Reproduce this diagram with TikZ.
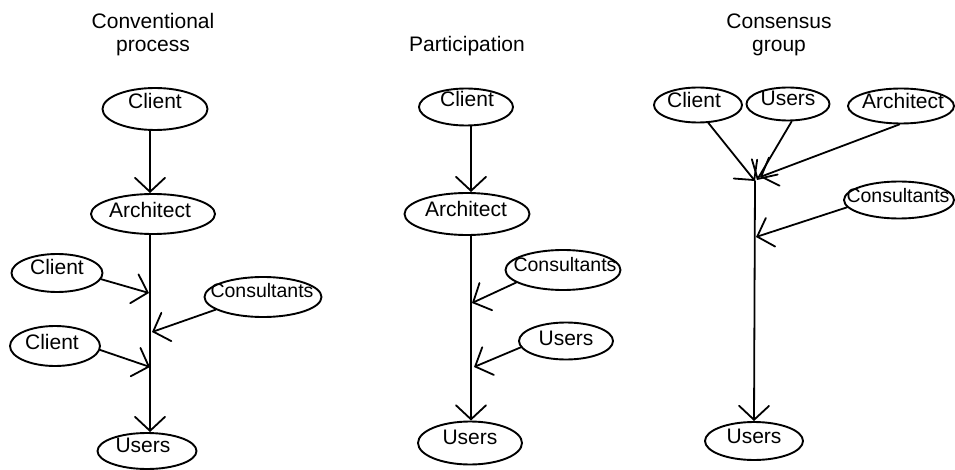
\documentclass[tikz,border=0pt]{standalone}
\usepackage{fontspec}
\setmainfont{Liberation Sans}
\usetikzlibrary{shapes.geometric,arrows.meta}
\begin{document}
\begin{tikzpicture}[x=1pt,y=-1pt,
  oval/.style={draw, ellipse, line width=1.9pt, inner sep=0pt},
  txt/.style={anchor=base, inner sep=0pt, font=\fontsize{21}{24}\selectfont},
  ctxt/.style={txt, font=\fontsize{19.5}{23}\selectfont},
  flow/.style={line width=1.8pt, line cap=round, -{Straight Barb[length=14pt,width=30pt,line cap=round]}}]
\useasboundingbox (0,0) rectangle (955,470);

% ---------- titles ----------
\node[txt] (t1a) at (153,29) {Conventional};
\node[txt] (t1b) at (153,52) {process};
\node[txt] (t2) at (467,52) {Participation};
\node[txt] (t3a) at (779,29) {Consensus};
\node[txt] (t3b) at (779,52) {group};

% ---------- left: conventional process ----------
\node[oval, minimum width=105pt, minimum height=42pt] (Lc1) at (155,109) {};
\node[txt] (Lc1t) at (155,109) {Client};
\node[oval, minimum width=124pt, minimum height=40pt] (La) at (153,214) {};
\node[txt] (Lat) at (150,218) {Architect};
\node[oval, minimum width=91pt, minimum height=38pt] (Lc2) at (57,273) {};
\node[txt] (Lc2t) at (57,274) {Client};
\node[oval, minimum width=117pt, minimum height=40pt] (Lco) at (263,297) {};
\node[ctxt] (Lcot) at (262,298) {Consultants};
\node[oval, minimum width=90pt, minimum height=40pt] (Lc3) at (55,346) {};
\node[txt] (Lc3t) at (52,349) {Client};
\node[oval, minimum width=99pt, minimum height=36pt] (Lu) at (147,451) {};
\node[txt] (Lut) at (143,452) {Users};

\coordinate (sL) at (150,0);
\coordinate (jL1) at (149,293);
\coordinate (jL2) at (152,332);
\coordinate (jL3) at (150,367);
\draw[flow] (sL |- Lc1.south) -- (sL |- La.north);
\draw[flow] (sL |- La.south) -- (sL |- Lu.north);
\draw[flow] (Lc2.-8) -- (jL1);
\draw[flow] (Lco.195) -- (jL2);
\draw[flow] (Lc3.-5) -- (jL3);

% ---------- middle: participation ----------
\node[oval, minimum width=94pt, minimum height=37pt] (Mc1) at (466,107) {};
\node[txt] (Mc1t) at (467,107) {Client};
\node[oval, minimum width=125pt, minimum height=42pt] (Ma) at (467,214) {};
\node[txt] (Mat) at (466,217) {Architect};
\node[oval, minimum width=115pt, minimum height=40pt] (Mco) at (563,270) {};
\node[ctxt] (Mcot) at (565,272) {Consultants};
\node[oval, minimum width=94pt, minimum height=37pt] (Mu1) at (566,341) {};
\node[txt] (Mu1t) at (566,345) {Users};
\node[oval, minimum width=104pt, minimum height=43pt] (Mu2) at (470,443) {};
\node[txt] (Mu2t) at (470,444) {Users};

\coordinate (sM) at (471,0);
\coordinate (jM1) at (472,303);
\coordinate (jM2) at (474,367);
\draw[flow] (sM |- Mc1.south) -- (sM |- Ma.north);
\draw[flow] (sM |- Ma.south) -- (sM |- Mu2.north);
\draw[flow] (Mco.195) -- (jM1);
\draw[flow] (Mu1.188) -- (jM2);

% ---------- right: consensus group ----------
\node[oval, minimum width=88pt, minimum height=35pt] (Rc) at (698,105) {};
\node[txt] (Rct) at (694,108) {Client};
\node[oval, minimum width=83pt, minimum height=33pt] (Ru1) at (788,104) {};
\node[txt] (Ru1t) at (788,106) {Users};
\node[oval, minimum width=106pt, minimum height=35pt] (Ra) at (901,106) {};
\node[txt] (Rat) at (903,109) {Architect};
\node[oval, minimum width=110pt, minimum height=37pt] (Rco) at (899,200) {};
\node[ctxt] (Rcot) at (898,203) {Consultants};
\node[oval, minimum width=98pt, minimum height=38pt] (Ru2) at (754,441) {};
\node[txt] (Ru2t) at (754,443) {Users};

\coordinate (jRa) at (755,181);
\coordinate (jRb) at (757,180);
\coordinate (jRc) at (760,177);
\coordinate (jRd) at (756,237);
\draw[flow] (Rc.-60) -- (jRa);
\draw[flow] (Ru1.-78) -- (jRb);
\draw[flow] (Ra.-95) -- (jRc);
\draw[flow] (Rco.188) -- (jRd);
\draw[flow] (jRa) -- (Ru2.north);
\end{tikzpicture}
\end{document}
